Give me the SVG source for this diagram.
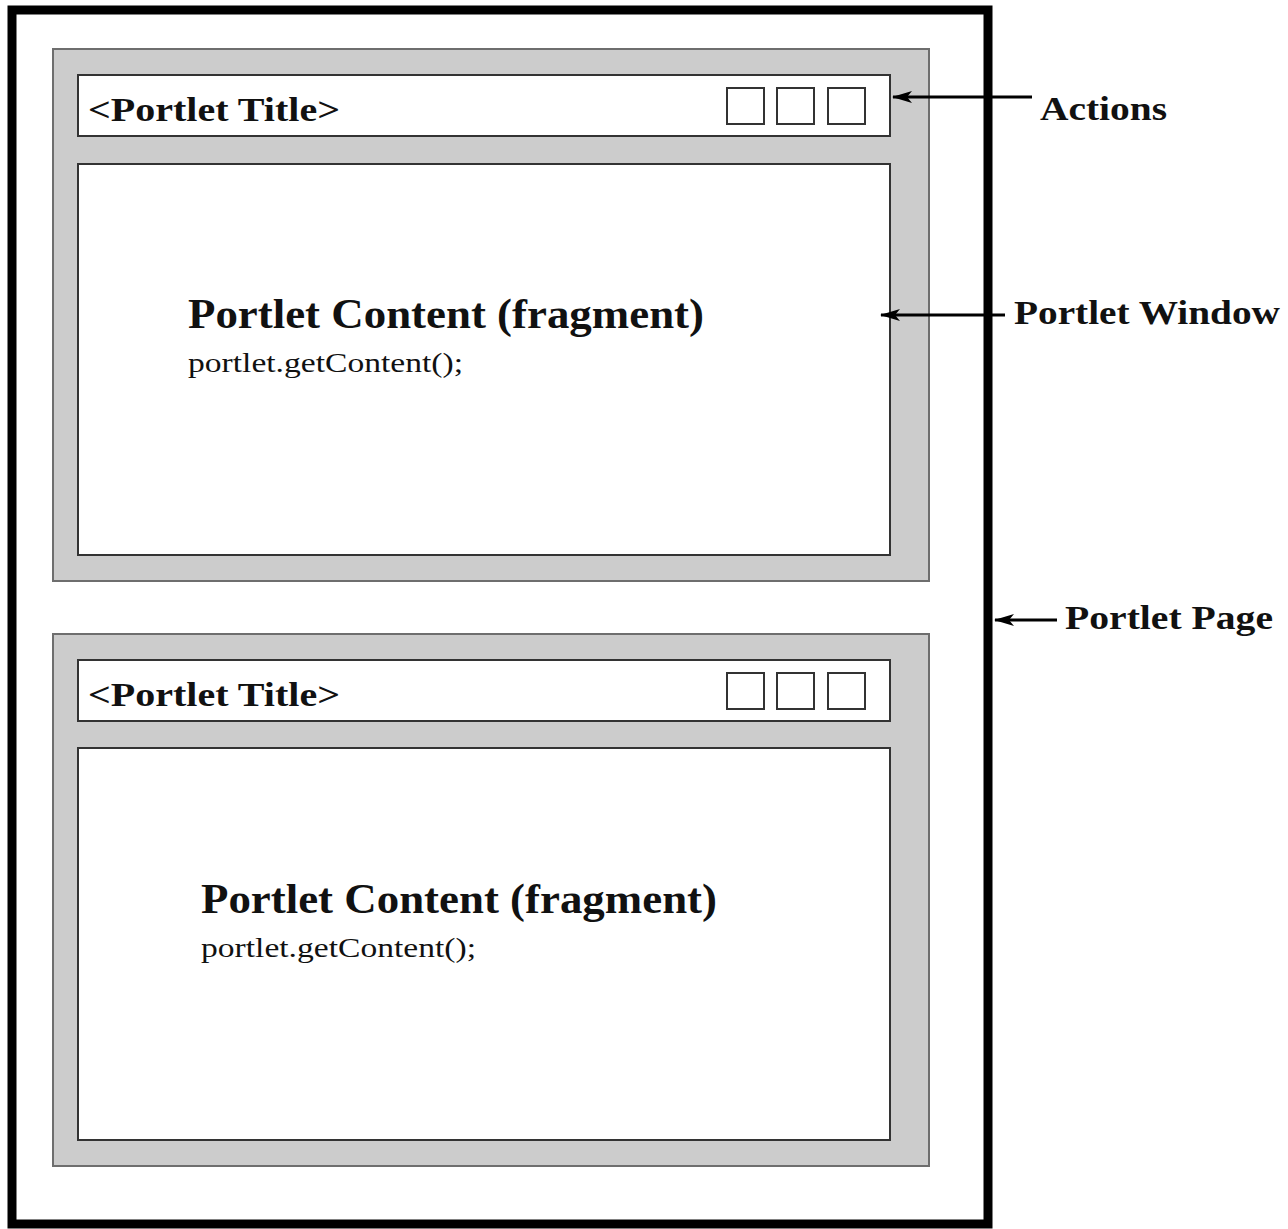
<svg xmlns="http://www.w3.org/2000/svg" width="1288" height="1229" viewBox="0 0 1288 1229">
<defs>
<marker id="ah" markerWidth="20" markerHeight="12" refX="19" refY="6" orient="auto" markerUnits="userSpaceOnUse">
<path d="M20,6 L0,0 L5,6 L0,12 Z" fill="#000"/>
</marker>
<style>
.win{fill:#cccccc;stroke:#6e6e6e;stroke-width:2}
.box{fill:#fff;stroke:#333;stroke-width:2}
.btn{fill:#fff;stroke:#333;stroke-width:2}
.title{font-family:"Liberation Serif","Times New Roman",serif;font-weight:bold;font-size:33px;fill:#111}
.head{font-family:"Liberation Serif","Times New Roman",serif;font-weight:bold;font-size:42px;fill:#111}
.code{font-family:"Liberation Serif","Times New Roman",serif;font-size:27px;fill:#111}
.lbl{font-family:"Liberation Serif","Times New Roman",serif;font-weight:bold;font-size:33px;fill:#111}
.conn{stroke:#000;stroke-width:3;fill:none}
</style>
</defs>
<rect width="1288" height="1229" fill="#fff"/>
<g id="page">
<rect x="12" y="10" width="976" height="1214" fill="none" stroke="#000" stroke-width="9"/>
</g>
<g id="window1">
<rect class="win" x="53" y="49" width="876" height="532"/>
<rect class="box" x="78" y="75" width="812" height="61"/>
<text class="title" x="88" y="121" textLength="252" lengthAdjust="spacingAndGlyphs">&lt;Portlet Title&gt;</text>
<rect class="btn" x="727" y="88" width="37" height="36"/>
<rect class="btn" x="777" y="88" width="37" height="36"/>
<rect class="btn" x="828" y="88" width="37" height="36"/>
<rect class="box" x="78" y="164" width="812" height="391"/>
<text class="head" x="188" y="328" textLength="516" lengthAdjust="spacingAndGlyphs">Portlet Content (fragment)</text>
<text class="code" x="188" y="372" textLength="275" lengthAdjust="spacingAndGlyphs">portlet.getContent();</text>
</g>
<g id="window2">
<rect class="win" x="53" y="634" width="876" height="532"/>
<rect class="box" x="78" y="660" width="812" height="61"/>
<text class="title" x="88" y="706" textLength="252" lengthAdjust="spacingAndGlyphs">&lt;Portlet Title&gt;</text>
<rect class="btn" x="727" y="673" width="37" height="36"/>
<rect class="btn" x="777" y="673" width="37" height="36"/>
<rect class="btn" x="828" y="673" width="37" height="36"/>
<rect class="box" x="78" y="748" width="812" height="392"/>
<text class="head" x="201" y="913" textLength="516" lengthAdjust="spacingAndGlyphs">Portlet Content (fragment)</text>
<text class="code" x="201" y="957" textLength="275" lengthAdjust="spacingAndGlyphs">portlet.getContent();</text>
</g>
<g id="connectors">
<line class="conn" x1="1032" y1="97" x2="893" y2="97" marker-end="url(#ah)"/>
<line class="conn" x1="1005" y1="315" x2="881" y2="315" marker-end="url(#ah)"/>
<line class="conn" x1="1057" y1="620" x2="995" y2="620" marker-end="url(#ah)"/>
</g>
<g id="labels">
<text class="lbl" x="1040" y="120" textLength="127" lengthAdjust="spacingAndGlyphs">Actions</text>
<text class="lbl" x="1014" y="324" textLength="266" lengthAdjust="spacingAndGlyphs">Portlet Window</text>
<text class="lbl" x="1065" y="629" textLength="208" lengthAdjust="spacingAndGlyphs">Portlet Page</text>
</g>
</svg>
